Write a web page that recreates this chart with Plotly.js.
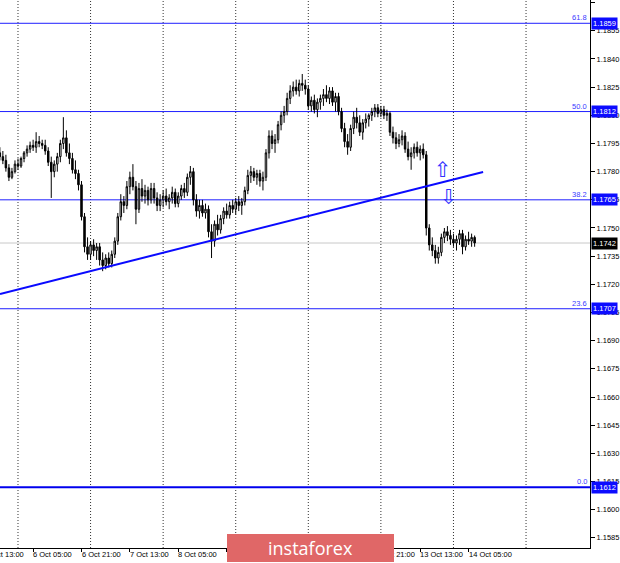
<!DOCTYPE html>
<html>
<head>
<meta charset="utf-8">
<script src="https://cdn.plot.ly/plotly-3.0.1.min.js"></script>
<style>
html,body{margin:0;padding:0;background:#fff;}
#chart{width:620px;height:563px;}
</style>
</head>
<body>
<div id="chart"></div>
<script>
// EURUSD H1, bar 0 = 6 Oct 00:00
var firstBar = -6;
var opens = [1.1790,1.1788,1.1786,1.1782,1.1777,1.1780,1.1784,1.1783,1.1787,1.1790,1.1792,1.1794,1.1793,1.1796,1.1795,1.1794,1.1791,1.1785,1.1780,1.1784,1.1788,1.1795,1.1798,1.1790,1.1787,1.1781,1.1779,1.1773,1.1756,1.1740,1.1736,1.1741,1.1738,1.1740,1.1733,1.1730,1.1734,1.1731,1.1736,1.1743,1.1756,1.1764,1.1762,1.1772,1.1777,1.1772,1.1760,1.1771,1.1767,1.1770,1.1765,1.1771,1.1766,1.1762,1.1765,1.1767,1.1764,1.1766,1.1769,1.1763,1.1767,1.1771,1.1769,1.1777,1.1780,1.1765,1.1759,1.1762,1.1758,1.1760,1.1748,1.1743,1.1752,1.1749,1.1755,1.1759,1.1757,1.1762,1.1760,1.1764,1.1762,1.1764,1.1770,1.1778,1.1780,1.1777,1.1779,1.1775,1.1777,1.1790,1.1799,1.1795,1.1797,1.1805,1.1810,1.1812,1.1819,1.1823,1.1825,1.1823,1.1827,1.1826,1.1824,1.1815,1.1818,1.1813,1.1817,1.1819,1.1821,1.1819,1.1823,1.1817,1.1820,1.1812,1.1803,1.1796,1.1793,1.1803,1.1809,1.1806,1.1801,1.1806,1.1808,1.1810,1.1812,1.1814,1.1811,1.1813,1.1810,1.1811,1.1801,1.1798,1.1795,1.1797,1.1799,1.1792,1.1788,1.1790,1.1793,1.1790,1.1792,1.1789,1.1750,1.1741,1.1738,1.1734,1.1737,1.1745,1.1748,1.1746,1.1744,1.1742,1.1744,1.1747,1.1740,1.1744,1.1743,1.1745];
var highs = [1.1793,1.1791,1.1789,1.1784,1.1782,1.1786,1.1787,1.1788,1.1791,1.1794,1.1796,1.1797,1.1801,1.1799,1.1797,1.1797,1.1793,1.1788,1.1786,1.1790,1.1797,1.1809,1.1802,1.1795,1.1790,1.1786,1.1781,1.1775,1.1758,1.1745,1.1743,1.1744,1.1742,1.1742,1.1737,1.1736,1.1737,1.1738,1.1745,1.1758,1.1768,1.1767,1.1775,1.1780,1.1784,1.1775,1.1774,1.1776,1.1773,1.1772,1.1774,1.1774,1.1769,1.1768,1.1770,1.1771,1.1768,1.1772,1.1771,1.1769,1.1773,1.1774,1.1779,1.1783,1.1782,1.1768,1.1765,1.1765,1.1763,1.1762,1.1752,1.1754,1.1757,1.1757,1.1761,1.1763,1.1764,1.1765,1.1766,1.1767,1.1766,1.1772,1.1781,1.1783,1.1782,1.1781,1.1781,1.1780,1.1792,1.1802,1.1802,1.1800,1.1807,1.1812,1.1815,1.1822,1.1826,1.1828,1.1829,1.1829,1.1832,1.1829,1.1826,1.1820,1.1821,1.1819,1.1821,1.1824,1.1826,1.1825,1.1825,1.1822,1.1822,1.1814,1.1806,1.1800,1.1805,1.1812,1.1814,1.1810,1.1808,1.1811,1.1811,1.1814,1.1816,1.1816,1.1815,1.1815,1.1813,1.1812,1.1804,1.1801,1.1800,1.1802,1.1801,1.1796,1.1793,1.1795,1.1796,1.1794,1.1795,1.1791,1.1752,1.1745,1.1741,1.1740,1.1747,1.1750,1.1751,1.1749,1.1747,1.1746,1.1749,1.1749,1.1746,1.1748,1.1747,1.1746];
var lows = [1.1786,1.1784,1.1780,1.1775,1.1776,1.1779,1.1781,1.1782,1.1785,1.1788,1.1790,1.1791,1.1790,1.1793,1.1792,1.1789,1.1783,1.1766,1.1777,1.1780,1.1785,1.1792,1.1788,1.1784,1.1779,1.1776,1.1770,1.1754,1.1737,1.1733,1.1733,1.1735,1.1733,1.1730,1.1727,1.1728,1.1729,1.1729,1.1734,1.1741,1.1754,1.1758,1.1760,1.1768,1.1770,1.1752,1.1758,1.1764,1.1763,1.1762,1.1763,1.1763,1.1759,1.1759,1.1761,1.1762,1.1760,1.1763,1.1761,1.1761,1.1765,1.1766,1.1767,1.1773,1.1762,1.1756,1.1755,1.1756,1.1755,1.1745,1.1734,1.1740,1.1746,1.1747,1.1752,1.1755,1.1755,1.1758,1.1757,1.1759,1.1757,1.1762,1.1768,1.1774,1.1775,1.1773,1.1772,1.1770,1.1775,1.1787,1.1792,1.1790,1.1795,1.1802,1.1806,1.1810,1.1816,1.1820,1.1821,1.1820,1.1823,1.1821,1.1813,1.1812,1.1811,1.1809,1.1813,1.1815,1.1817,1.1816,1.1815,1.1812,1.1810,1.1801,1.1793,1.1789,1.1791,1.1800,1.1803,1.1799,1.1797,1.1803,1.1804,1.1807,1.1809,1.1809,1.1809,1.1808,1.1807,1.1799,1.1795,1.1792,1.1793,1.1794,1.1790,1.1786,1.1781,1.1787,1.1788,1.1786,1.1787,1.1746,1.1738,1.1735,1.1731,1.1731,1.1735,1.1742,1.1743,1.1741,1.1740,1.1738,1.1741,1.1736,1.1738,1.1741,1.1740,1.1740];
var closes = [1.1788,1.1786,1.1782,1.1777,1.1780,1.1784,1.1783,1.1787,1.1790,1.1792,1.1794,1.1793,1.1796,1.1795,1.1794,1.1791,1.1785,1.1780,1.1784,1.1788,1.1795,1.1798,1.1790,1.1787,1.1781,1.1779,1.1773,1.1756,1.1740,1.1736,1.1741,1.1738,1.1740,1.1733,1.1730,1.1734,1.1731,1.1736,1.1743,1.1756,1.1764,1.1762,1.1772,1.1777,1.1772,1.1760,1.1771,1.1767,1.1770,1.1765,1.1771,1.1766,1.1762,1.1765,1.1767,1.1764,1.1766,1.1769,1.1763,1.1767,1.1771,1.1769,1.1777,1.1780,1.1765,1.1759,1.1762,1.1758,1.1760,1.1748,1.1743,1.1752,1.1749,1.1755,1.1759,1.1757,1.1762,1.1760,1.1764,1.1762,1.1764,1.1770,1.1778,1.1780,1.1777,1.1779,1.1775,1.1777,1.1790,1.1799,1.1795,1.1797,1.1805,1.1810,1.1812,1.1819,1.1823,1.1825,1.1823,1.1827,1.1826,1.1824,1.1815,1.1818,1.1813,1.1817,1.1819,1.1821,1.1819,1.1823,1.1817,1.1820,1.1812,1.1803,1.1796,1.1793,1.1803,1.1809,1.1806,1.1801,1.1806,1.1808,1.1810,1.1812,1.1814,1.1811,1.1813,1.1810,1.1811,1.1801,1.1798,1.1795,1.1797,1.1799,1.1792,1.1788,1.1790,1.1793,1.1790,1.1792,1.1789,1.1750,1.1741,1.1738,1.1734,1.1737,1.1745,1.1748,1.1746,1.1744,1.1742,1.1744,1.1747,1.1740,1.1744,1.1743,1.1745,1.1742];

var fibLabels = ['0.0','23.6','38.2','50.0','61.8'];
var fibPrices = [1.1612, 1.1707, 1.1765, 1.1812, 1.1859];
var currentPrice = 1.1742;

var trendX = [-5.95, 153.8];
var trendY = [1.17149, 1.17798];

var daySeparators = [0, 24, 48, 72, 96, 120, 144, 168];
var xTickBars = [5, 21, 37, 53, 69, 85, 101, 117, 133, 149];
var xTickText = ['6 Oct 05:00','6 Oct 21:00','7 Oct 13:00','8 Oct 05:00','8 Oct 21:00','9 Oct 13:00','12 Oct 05:00','12 Oct 21:00','13 Oct 13:00','14 Oct 05:00'];
var cutTickBar = -11, cutTickText = '5 Oct 13:00';

var arrowUp = {bar: 140.6, price: 1.17809};
var arrowDown = {bar: 142.6, price: 1.17667};

var xRange = [-5.95, 189.15];
var yRange = [1.15796, 1.18714];

var bars = opens.map(function(_, i){ return firstBar + i; });

var FONT = 'Liberation Sans, Arial, sans-serif';
var BLUE = '#1f1fff';

var traces = [
  {
    type: 'candlestick', x: bars, open: opens, high: highs, low: lows, close: closes,
    increasing: {line: {color: '#000', width: 1}, fillcolor: '#ffffff'},
    decreasing: {line: {color: '#000', width: 1}, fillcolor: '#000000'},
    whiskerwidth: 0, hoverinfo: 'skip', showlegend: false
  },
  {
    type: 'scatter', mode: 'lines', x: trendX, y: trendY,
    line: {color: '#0a0aff', width: 2}, hoverinfo: 'skip', showlegend: false, cliponaxis: true
  }
];

var shapes = [];
daySeparators.forEach(function(d){
  shapes.push({type:'line', xref:'x', yref:'paper', x0:d, x1:d, y0:0, y1:1, layer:'below',
    line:{color:'#333', width:1, dash:'1px,2px'}});
});
shapes.push({type:'line', xref:'paper', yref:'y', x0:0, x1:1, y0:currentPrice, y1:currentPrice, layer:'below',
  line:{color:'#c8c8c8', width:1}});
fibPrices.forEach(function(p, i){
  shapes.push({type:'line', xref:'paper', yref:'y', x0:0, x1:1, y0:p, y1:p, layer:'below',
    line:{color: i === 0 ? '#0000ee' : BLUE, width: i === 0 ? 2 : 1}});
});

var annotations = [];
// x-axis time labels, left-aligned at their tick
xTickBars.forEach(function(b, i){
  annotations.push({xref:'x', yref:'paper', x:b, y:0, xanchor:'left', yanchor:'top', yshift:-1, xshift:-1,
    text: xTickText[i], showarrow:false, borderpad:0, font:{family:FONT, size:7.5, color:'#000'}});
});
annotations.push({xref:'paper', yref:'paper', x:(cutTickBar - xRange[0])/(xRange[1]-xRange[0]), y:0,
  xanchor:'left', yanchor:'top', yshift:-1, xshift:-1, text: cutTickText, showarrow:false, borderpad:0,
  font:{family:FONT, size:7.5, color:'#000'}});
fibPrices.forEach(function(p, i){
  annotations.push({xref:'paper', yref:'y', x:1, y:p, xanchor:'right', yanchor:'bottom', xshift:-1, yshift:-1,
    text: fibLabels[i], showarrow:false, font:{family:FONT, size:7.5, color:'#3a3aff'}});
  annotations.push({xref:'paper', yref:'y', x:1, y:p, xanchor:'left', yanchor:'middle', xshift:1,
    text: p.toFixed(4), showarrow:false, bgcolor:'#0c0cff', borderpad:1,
    font:{family:FONT, size:7.5, color:'#ffffff'}});
});
annotations.push({xref:'paper', yref:'y', x:1, y:currentPrice, xanchor:'left', yanchor:'middle', xshift:1,
  text: currentPrice.toFixed(4), showarrow:false, bgcolor:'#000000', borderpad:1,
  font:{family:FONT, size:7.5, color:'#ffffff'}});
annotations.push({xref:'x', yref:'y', x:arrowUp.bar, y:arrowUp.price, text:'\u21E7', showarrow:false,
  font:{family:'DejaVu Sans', size:21, color:'#3030ff'}});
annotations.push({xref:'x', yref:'y', x:arrowDown.bar, y:arrowDown.price, text:'\u21E9', showarrow:false,
  font:{family:'DejaVu Sans', size:21, color:'#3030ff'}});
// watermark badge (drawn last, over the axis labels)
annotations.push({xref:'paper', yref:'paper', x:(227+394)/2/590, y:0, xanchor:'center', yanchor:'middle',
  width:167, height:28, borderpad:0, borderwidth:0, bgcolor:'#e06767', align:'center', valign:'middle',
  text:'instaforex', showarrow:false, font:{family:'Open Sans, sans-serif', size:18, color:'#ffffff'}});

var layout = {
  width: 620, height: 563,
  margin: {l:0, r:30, t:0, b:15, pad:0},
  paper_bgcolor: '#ffffff', plot_bgcolor: '#ffffff',
  showlegend: false,
  font: {family: FONT, size: 7.5, color: '#000'},
  xaxis: {
    range: xRange, type: 'linear', fixedrange: true,
    rangeslider: {visible: false},
    showgrid: false, zeroline: false,
    showline: true, linecolor: '#000', linewidth: 1, mirror: true,
    tickmode: 'array', tickvals: xTickBars, showticklabels: false,
    ticks: 'outside', ticklen: 3, tickcolor: '#000', tickwidth: 1
  },
  yaxis: {
    range: yRange, side: 'right', fixedrange: true,
    showgrid: false, zeroline: false,
    showline: true, linecolor: '#000', linewidth: 1, mirror: true,
    tick0: 1.1585, dtick: 0.0015, tickformat: '.4f',
    ticks: 'outside', ticklen: 4, tickcolor: '#000', tickwidth: 1,
    tickfont: {family: FONT, size: 7.5, color: '#000'}
  },
  shapes: shapes,
  annotations: annotations
};

Plotly.newPlot('chart', traces, layout, {staticPlot: true, displayModeBar: false});
</script>
</body>
</html>
